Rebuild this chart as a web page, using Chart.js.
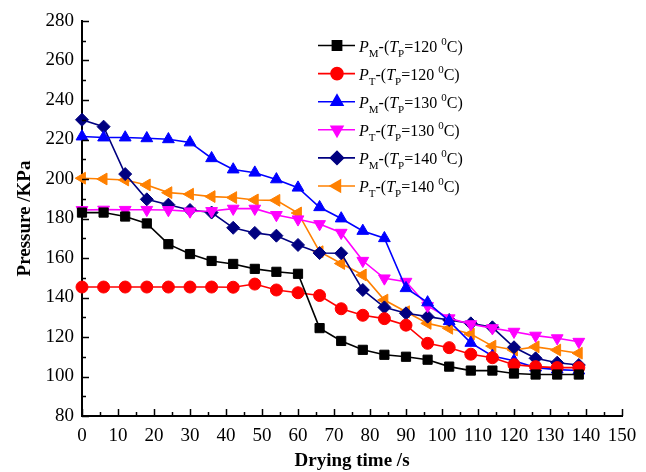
<!DOCTYPE html>
<html><head><meta charset="utf-8">
<script src="https://cdn.jsdelivr.net/npm/chart.js@4/dist/chart.umd.min.js"></script>
<style>html,body{margin:0;padding:0;background:#fff}#wrap{width:646px;height:472px;position:relative}</style>
</head><body><div id="wrap"><canvas id="c" width="646" height="472"></canvas></div>
<script>
const times = [0,6,12,18,24,30,36,42,48,54,60,66,72,78,84,90,96,102,108,114,120,126,132,138];
const pM120 = [183,183,181,177.5,167,162,158.5,157,154.5,153,152,124.5,118,113.5,111,110,108.5,105,103,103,101.5,101,101,101];
const pT120 = [145.3,145.3,145.3,145.3,145.3,145.3,145.3,145.2,146.8,143.8,142.4,141,134.3,131,129.3,126,116.8,114.6,111.3,109.5,106,105,104.5,104.5];
const pM130 = [221.5,221,221,220.6,220.1,218.5,210.5,204.8,203.2,199.8,195.6,185.7,180,173.7,170,144.7,137.5,128,117,110.4,108,104.5,103.5,103];
const pT130 = [184.3,184.5,184.4,184.4,184.3,183.6,183.8,185,185,181.8,179.6,177.2,172.8,158.6,149.7,148,135.7,129.5,126.5,124.5,122.7,120.7,119.4,117.6];
const pM140 = [230,226.5,202.5,189.7,187,184.3,183,175.3,172.7,171.3,166.6,162.5,162.4,143.8,135,132,130.3,128.6,126.9,124.9,114.8,109.2,107,105.8];
const pT140 = [200.4,200,199.5,197,193.1,192.3,191.1,190.6,189.4,189.2,182.8,163.2,157.2,151.4,138.7,132.8,126.9,124.4,121.5,115.4,113.4,115,113.4,111.8];
const legendSub = ['M','T','M','T','M','T'];
const legendTemp = ['120','120','130','130','140','140'];
const xTitle = 'Drying time /s';
const yTitle = 'Pressure /KPa';

const colors = ['#000000','#ff0000','#0000ff','#ff00ff','#000080','#ff8000'];
const styles = [
  {pointStyle:'rect', radius:6.5, rotation:0},
  {pointStyle:'circle', radius:6, rotation:0},
  {pointStyle:'triangle', radius:6.8, rotation:0},
  {pointStyle:'triangle', radius:6.8, rotation:180},
  {pointStyle:'rectRot', radius:6.5, rotation:0},
  {pointStyle:'triangle', radius:6.8, rotation:270}
];
const allSeries = [pM120,pT120,pM130,pT130,pM140,pT140];

const datasets = allSeries.map((arr,i)=>({
  label: 'P' + legendSub[i] + '-(TP=' + legendTemp[i] + ' 0C)',
  data: arr.map((v,j)=>({x:times[j], y:v})),
  borderColor: colors[i],
  backgroundColor: colors[i],
  borderWidth: 1.6,
  pointStyle: styles[i].pointStyle,
  pointRadius: styles[i].radius,
  pointRotation: styles[i].rotation,
  pointBorderWidth: 1,
  tension: 0,
  clip: false
}));

const FONT = "'Liberation Serif','Times New Roman',serif";

const inwardTicks = {
  id:'inwardTicks',
  afterDraw(chart){
    const ctx = chart.ctx, xs = chart.scales.x, ys = chart.scales.y;
    const ca = chart.chartArea;
    ctx.save();
    ctx.strokeStyle = '#000'; ctx.lineWidth = 1.5;
    for (let v = 80; v <= 280; v += 10) {
      const py = Math.round(ys.getPixelForValue(v)) + 0.5;
      const len = (v % 20 === 0) ? 7 : 4;
      ctx.beginPath(); ctx.moveTo(ca.left, py); ctx.lineTo(ca.left + len, py); ctx.stroke();
    }
    for (let t = 0; t <= 150; t += 5) {
      const px = Math.round(xs.getPixelForValue(t)) + 0.5;
      const len = (t % 10 === 0) ? 7 : 4;
      ctx.beginPath(); ctx.moveTo(px, ca.bottom); ctx.lineTo(px, ca.bottom - len); ctx.stroke();
    }
    ctx.restore();
  }
};

const customLegend = {
  id:'customLegend',
  afterDraw(chart){
    const ctx = chart.ctx;
    const H = Chart.helpers;
    ctx.save();
    const x0 = 318, x1 = 355, xm = 337, tx = 359;
    const y0 = 45.5, dy = 28.1;
    const mainF = "16px " + FONT, itF = "italic 16px " + FONT, subF = "11px " + FONT;
    for (let i = 0; i < 6; i++) {
      const y = y0 + dy * i;
      ctx.strokeStyle = colors[i]; ctx.lineWidth = 1.6;
      ctx.beginPath(); ctx.moveTo(x0, y); ctx.lineTo(x1, y); ctx.stroke();
      ctx.fillStyle = colors[i];
      H.drawPoint(ctx, {pointStyle: styles[i].pointStyle, radius: styles[i].radius, rotation: styles[i].rotation, borderWidth: 1}, xm, y);
      ctx.fillStyle = '#000';
      ctx.textBaseline = 'alphabetic';
      ctx.textAlign = 'left';
      const base = y + 6;
      let x = tx;
      const parts = [
        {t:'P', f:itF, dy:0},
        {t:legendSub[i], f:subF, dy:5},
        {t:'-(', f:mainF, dy:0},
        {t:'T', f:itF, dy:0},
        {t:'P', f:subF, dy:5},
        {t:'=' + legendTemp[i] + ' ', f:mainF, dy:0},
        {t:'0', f:subF, dy:-7},
        {t:'C)', f:mainF, dy:0}
      ];
      for (const p of parts) {
        ctx.font = p.f;
        ctx.fillText(p.t, x, base + p.dy);
        x += ctx.measureText(p.t).width;
      }
    }
    ctx.restore();
  }
};

new Chart(document.getElementById('c'), {
  type:'line',
  data:{datasets},
  options:{
    responsive:false,
    animation:false,
    devicePixelRatio:1,
    layout:{padding:{left:0, right:24, top:21, bottom:0}},
    plugins:{legend:{display:false}, tooltip:{enabled:false}},
    scales:{
      x:{
        type:'linear', min:0, max:150,
        afterFit(s){ s.height = 56; },
        ticks:{stepSize:10, color:'#000', font:{family:FONT, size:19}, padding:9, maxRotation:0, autoSkip:false},
        grid:{display:true, drawOnChartArea:false, drawTicks:false},
        border:{display:true, color:'#000', width:2},
        title:{display:true, text:xTitle, color:'#000', font:{family:FONT, size:19, weight:'bold'}, padding:{top:0,bottom:0}}
      },
      y:{
        type:'linear', min:80, max:280,
        afterFit(s){ s.width = 82; },
        ticks:{stepSize:20, color:'#000', font:{family:FONT, size:19}, padding:8},
        grid:{display:true, drawOnChartArea:false, drawTicks:false},
        border:{display:true, color:'#000', width:2},
        title:{display:true, text:yTitle, color:'#000', font:{family:FONT, size:19, weight:'bold'}, padding:{top:14,bottom:0}}
      }
    }
  },
  plugins:[inwardTicks, customLegend]
});
</script></body></html>
